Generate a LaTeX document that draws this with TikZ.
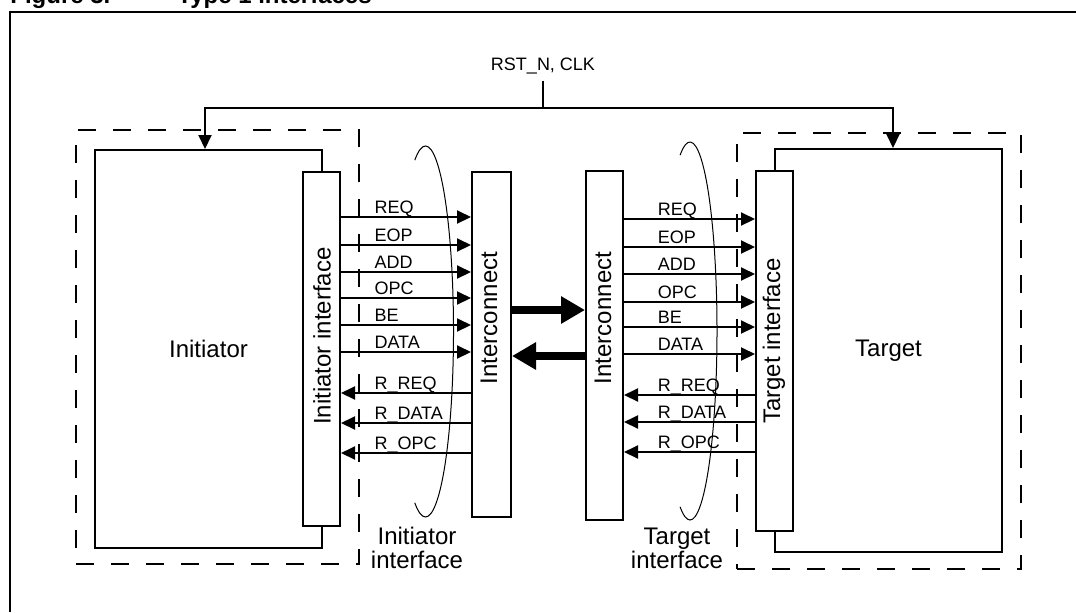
\documentclass[tikz,border=0pt]{standalone}
\usepackage{fontspec}
\setmainfont{Liberation Sans}
\usepackage{tikz}
\usetikzlibrary{arrows.meta,positioning}

\begin{document}
\begin{tikzpicture}[x=0.5pt, y=-0.5pt, >={Triangle[length=7pt,width=6.5pt]},
		blk/.style={draw, line width=1pt, fill=white, inner sep=0pt},
		grp/.style={draw, line width=1pt, dash pattern=on 9pt off 8.5pt, inner sep=0pt},
		big/.style={font=\fontsize{12}{12}\selectfont},
		small/.style={font=\fontsize{9}{10}\selectfont},
		sig/.style={->, line width=1pt},
		lbl/.style={small, anchor=base west, inner sep=0pt, yshift=2pt},
		fat/.style={-{Triangle[length=12pt,width=13pt]}, line width=4pt},
		ring/.style={line width=0.5pt}]
			\useasboundingbox (0,0) rectangle (1076,612);

			% frame and caption
			\draw[line width=1.2pt] (10,612) -- (10,12) -- (1076,12);
			\node[anchor=base west, inner sep=0pt, font=\fontsize{12}{12}\selectfont\bfseries] (fignum) at (10,3) {Figure 3.};
			\node[anchor=base west, inner sep=0pt, font=\fontsize{12}{12}\selectfont\bfseries] (figtitle) at (177,3) {Type 1 interfaces};

			% dashed groups
			\node[grp, minimum width=141.5pt, minimum height=217pt] (initgrp) at (217.5,347) {};
			\node[grp, minimum width=142pt, minimum height=218pt] (targgrp) at (879,351) {};

			% blocks
			\node[blk, big, minimum width=113.5pt, minimum height=199pt] (init) at (208.5,349) {Initiator};
			\node[blk, big, minimum width=113.5pt, minimum height=201.5pt] (targ) at (888.5,350.5) {Target};
			\node[blk, minimum width=18.5pt, minimum height=177pt] (iif) at (321.5,349) {};
			\node[blk, minimum width=18.5pt, minimum height=180pt] (tif) at (774.5,351) {};
			\node[blk, minimum width=19.5pt, minimum height=172.5pt] (ic1) at (491.5,344.5) {};
			\node[blk, minimum width=18.5pt, minimum height=174.5pt] (ic2) at (604.5,345.5) {};

			\node[big, rotate=90] (iiftxt) at (322,336) {Initiator interface};
			\node[big, rotate=90] (tiftxt) at (774,341) {Target interface};
			\node[big, rotate=90] (ic1txt) at (489,318) {Interconnect};
			\node[big, rotate=90] (ic2txt) at (603,318) {Interconnect};

			% reset and clock
			\node[small, anchor=base] (clk) at (543,70) {RST\_N, CLK};
			\coordinate (bus) at (543,108);
			\draw[line width=1pt] (clk.south) -- (bus);
			\draw[sig] (bus) -| (init.north -| 205,0);
			\draw[sig] (bus) -| (targ.north -| 893,0);

			% request signals
			\foreach \ya/\yb/\name in {217/219/REQ, 245/247/EOP, 272/274/ADD, 298/302/OPC, 325/327/BE, 352/354/DATA}{
				\draw[sig] (iif.east |- 0,\ya) -- (ic1.west |- 0,\ya) node[lbl, pos=0.25] {\name};
				\draw[sig] (ic2.east |- 0,\yb) -- (tif.west |- 0,\yb) node[lbl, pos=0.25] {\name};
			}
			% response signals
			\foreach \ya/\yb/\name in {393/395/R\_REQ, 423/422/R\_DATA, 453/452/R\_OPC}{
				\draw[sig, <-] (iif.east |- 0,\ya) -- (ic1.west |- 0,\ya) node[lbl, pos=0.25] {\name};
				\draw[sig, <-] (ic2.east |- 0,\yb) -- (tif.west |- 0,\yb) node[lbl, pos=0.25] {\name};
			}

			% interconnect link
			\draw[fat] (ic1.east |- 0,310) -- (ic2.west |- 0,310);
			\draw[fat] (ic2.west |- 0,356) -- (ic1.east |- 0,356);

			% interface rings
			\coordinate (ring1) at (425.5,331.5);
			\coordinate (ring2) at (690,331);
			\draw[ring] ([shift={(112.5:14pt and 92.75pt)}]ring1) arc[start angle=112.5, end angle=-112.5, x radius=14pt, y radius=92.75pt];
			\draw[ring] ([shift={(111.5:13.5pt and 94.5pt)}]ring2) arc[start angle=111.5, end angle=-111.5, x radius=13.5pt, y radius=94.5pt];
			\node[big, align=center] (iiflbl) at (417,548) {Initiator\\interface};
			\node[big, align=center] (tiflbl) at (677,548) {Target\\interface};
		\end{tikzpicture}
\end{document}
